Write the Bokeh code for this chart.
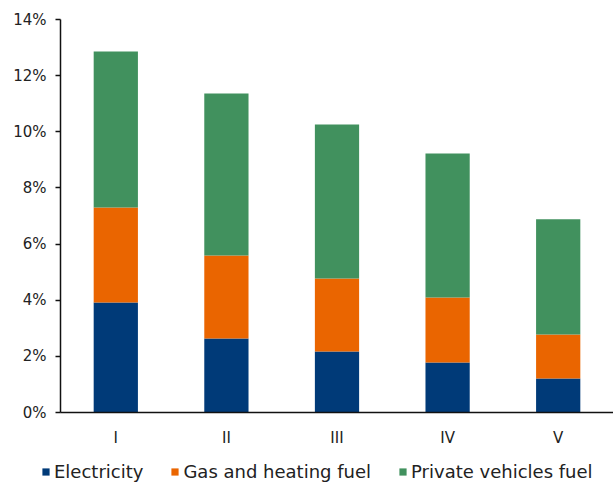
from bokeh.plotting import figure
from bokeh.models import Range1d, PrintfTickFormatter, Legend, LegendItem, ColumnDataSource
from bokeh.embed import file_html
from bokeh.resources import INLINE

categories = ["I", "II", "III", "IV", "V"]
electricity = [3.92, 2.64, 2.17, 1.78, 1.21]
gas_heating = [3.38, 2.95, 2.60, 2.32, 1.57]
vehicles = [5.56, 5.77, 5.49, 5.13, 4.10]
series_names = ["Electricity", "Gas and heating fuel", "Private vehicles fuel"]
series_keys = ["electricity", "gas", "vehicles"]
colors = ["#003A78", "#EA6500", "#41915E"]
y_ticks = [0, 2, 4, 6, 8, 10, 12, 14]

FONT = "DejaVu Sans"

source = ColumnDataSource(dict(cat=categories, electricity=electricity,
                               gas=gas_heating, vehicles=vehicles))

p = figure(x_range=categories, y_range=Range1d(0, 14), width=613, height=454,
           output_backend="svg", toolbar_location=None,
           min_border_left=60, min_border_right=0, min_border_top=19,
           min_border_bottom=42)
p.outline_line_color = None
p.xgrid.grid_line_color = None
p.ygrid.grid_line_color = None
p.x_range.range_padding = 0

renderers = p.vbar_stack(series_keys, x="cat", width=0.4, color=colors,
                         source=source, line_color=None)

p.yaxis.ticker = y_ticks
p.yaxis.formatter = PrintfTickFormatter(format="%d%%")
p.yaxis.major_tick_out = 5
p.yaxis.major_tick_in = 0
p.yaxis.minor_tick_line_color = None
p.yaxis.major_label_standoff = 9
p.xaxis.minor_tick_line_color = None
p.xaxis.major_tick_out = 0
p.xaxis.major_tick_in = 0
p.xaxis.major_label_standoff = 16
for ax in (p.xaxis, p.yaxis):
    ax.axis_line_color = "#111111"
    ax.axis_line_width = 1.5
    ax.major_tick_line_color = "#111111"
    ax.major_tick_line_width = 1.5
    ax.major_label_text_font = FONT
    ax.major_label_text_font_size = "15px"
    ax.major_label_text_color = "#222222"
p.xaxis.major_tick_line_color = None

# legend row as a separate strip below the chart (no visible marks of its own)
lg = figure(width=613, height=28, output_backend="svg", toolbar_location=None,
            min_border=0, x_range=Range1d(0, 1), y_range=Range1d(0, 1))
lg.axis.visible = False
lg.grid.grid_line_color = None
lg.outline_line_color = None
nan = float("nan")
dummy_src = ColumnDataSource(dict(x=[nan], top=[nan]))
dummy = [lg.vbar(x="x", top="top", width=0.4, color=c, line_color=None,
                 source=dummy_src) for c in colors]

items = [LegendItem(label=n, renderers=[r]) for n, r in zip(series_names, dummy)]
legend = Legend(items=items, orientation="horizontal", location=(41, 0),
                label_text_font=FONT, label_text_font_size="18px",
                label_text_color="#222222", glyph_width=9, glyph_height=9,
                label_standoff=4, spacing=27, padding=4, margin=0,
                border_line_color=None, background_fill_alpha=0)
lg.add_layout(legend)

open("out.html", "w").write(file_html([p, lg], INLINE))
